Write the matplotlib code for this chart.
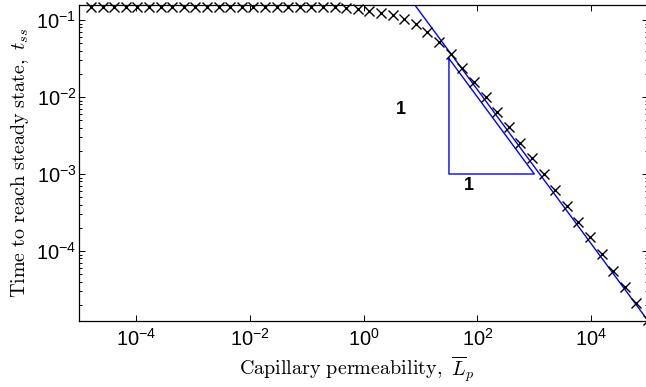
import numpy as np
import matplotlib
matplotlib.use("Agg")
import matplotlib.pyplot as plt
from matplotlib.ticker import FixedLocator, LogFormatterSciNotation, LogLocator, NullLocator

# sampled capillary permeability values (50 log-spaced points, first one not plotted)
Lp = np.logspace(-5, 5, 50)[1:]

# time to reach steady state at each Lp
t_ss = [0.149, 0.149, 0.149, 0.149, 0.149, 0.149, 0.149, 0.149, 0.149, 0.149,
        0.149, 0.149, 0.149, 0.149, 0.149, 0.149, 0.149, 0.149, 0.149, 0.149,
        0.149, 0.146, 0.142, 0.138, 0.131, 0.1245, 0.116, 0.102, 0.0879, 0.0692,
        0.0522, 0.0364, 0.0240, 0.01567, 0.0100, 0.00638, 0.00404, 0.00253, 0.00160, 0.000994,
        0.000625, 0.000390, 0.000240, 0.000151, 9.14e-5, 5.55e-5, 3.44e-5, 2.09e-5, 1.27e-5]

# large-Lp asymptote, slope -1
asym_x = [1.0, 1e5]
asym_y = [1.245, 1.245e-5]

# slope triangle
tri_x = [10**1.5, 10**1.5, 1e3, 10**1.5]
tri_y = [10**-1.5, 1e-3, 1e-3, 10**-1.5]

xticks = [1e-4, 1e-2, 1e0, 1e2, 1e4]

fig = plt.figure(figsize=(6.46, 3.87), dpi=100)
ax = fig.add_axes([79.3 / 646, 1 - 320.7 / 387, (648 - 79.3) / 646, (320.7 - 5) / 387])

ax.plot(Lp, t_ss, 'x', color='k', ms=7, mew=1.0, clip_on=False, zorder=3)
ax.plot(asym_x, asym_y, '-', color=(0, 0, 1), lw=1.0)
ax.plot(tri_x, tri_y, '-', color=(0, 0, 1), lw=1.0)

ax.set_xscale('log')
ax.set_yscale('log')
ax.set_xlim(1e-5, 1e5)
ax.set_ylim(1.245e-5, 0.1566)

ax.xaxis.set_major_locator(FixedLocator(xticks))
ax.xaxis.set_major_formatter(LogFormatterSciNotation())
ax.xaxis.set_minor_locator(NullLocator())
ax.yaxis.set_major_locator(LogLocator(base=10, numticks=10))
ax.yaxis.set_minor_locator(LogLocator(base=10, subs=np.arange(2, 10), numticks=10))

ax.tick_params(which='both', direction='in', top=True, right=True, width=0.7)
ax.tick_params(which='major', length=4)
ax.tick_params(which='minor', length=2)
ax.tick_params(axis='x', pad=5)
ax.tick_params(axis='y', pad=2)
for lab in ax.get_xticklabels() + ax.get_yticklabels():
    lab.set_fontfamily('Liberation Sans')
    lab.set_fontsize(14.5)
for s in ax.spines.values():
    s.set_linewidth(0.9)

bold = dict(family='Liberation Sans', fontweight='bold', fontsize=13, ha='center', va='center')
ax.text(4.5, 0.0068, '1', **bold)
ax.text(70, 7.2e-4, '1', **bold)

fig.text(356.5 / 646, 1 - 376 / 387, r'$\mathrm{Capillary\ permeability,}\ \overline{L}_p$',
         math_fontfamily='cm', fontsize=14.5, ha='center', va='baseline')
fig.text(20 / 646, 1 - 163 / 387, r'$\mathrm{Time\ to\ reach\ steady\ state,}\ t_{ss}$',
         math_fontfamily='cm', fontsize=14.5, ha='center', va='center', rotation=90)

fig.savefig('out.png', dpi=100)
